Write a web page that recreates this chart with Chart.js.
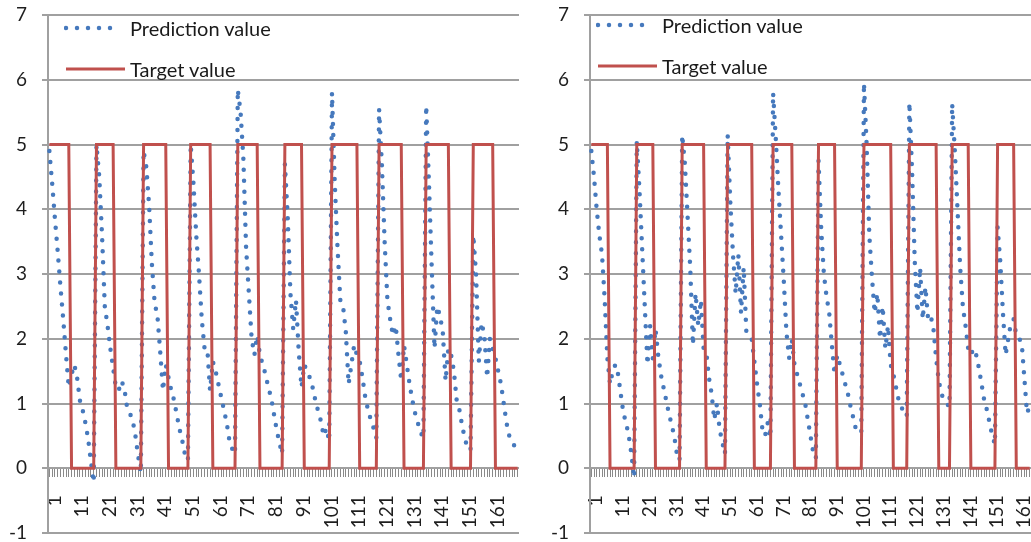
<!DOCTYPE html>
<html>
<head>
<meta charset="utf-8">
<script src="https://cdn.jsdelivr.net/npm/chart.js@4.4.0/dist/chart.umd.min.js"></script>
<style>
  html, body { margin: 0; padding: 0; background: #fff; }
  body { width: 1031px; height: 542px; position: relative; overflow: hidden; font-family: Lato, "Liberation Sans", sans-serif; }
  .panel { position: absolute; top: 0; height: 542px; overflow: hidden; background: #fff; }
  #leftPanel { left: 0; width: 519px; }
  #rightPanel { left: 519px; width: 512px; }
  canvas { display: block; }
  .legend { position: absolute; color: #1a1a1a; font-size: 20px; }
  .legend .row { display: flex; align-items: center; height: 41px; white-space: nowrap; }
  .legend svg { display: block; margin-right: 4px; }
</style>
</head>
<body>
<div class="panel" id="leftPanel">
  <canvas id="chartLeft" width="519" height="542"></canvas>
  <div class="legend" id="legendLeft" style="left:64px; top:7px;"></div>
</div>
<div class="panel" id="rightPanel">
  <canvas id="chartRight" width="512" height="542"></canvas>
  <div class="legend" id="legendRight" style="left:77px; top:4px;"></div>
</div>
<script>
// sample numbers along the x axis
const leftCategories = Array.from({ length: 170 }, (_, i) => String(i + 1));
const rightCategories = Array.from({ length: 165 }, (_, i) => String(i + 1));

// left run, one row per target cycle
const leftPrediction = [
  4.9, 4.4, 3.85, 3.35, 2.8, 2.3, 1.75, 1.25, 1.45, 1.6, 1.4, 1.05, 0.9, 0.7, 0.45, 0.1, -0.22,
  5.0, 4.5, 3.6, 2.5, 2.2, 1.85, 1.55, 1.25, 1.2, 1.35, 1.25, 0.95, 0.85, 0.75, 0.52, 0.2, -0.07,
  4.9, 4.65, 4.05, 3.15, 2.55, 2.35, 1.8, 1.2, 1.6, 1.4, 1.2, 1.05, 0.82, 0.6, 0.42, 0.2, 0.12,
  5.0, 4.4, 3.6, 3.0, 2.3, 1.85, 1.85, 1.2, 1.65, 1.5, 1.3, 1.1, 0.9, 0.7, 0.42, 0.3, 0.22,
  5.85, 5.5, 4.8, 3.4, 2.7, 2.0, 1.75, 2.05, 1.75, 1.6, 1.45, 1.25, 1.1, 0.85, 0.6, 0.4, 0.22,
  4.7, 3.9, 2.7, 2.15, 2.6, 1.8, 1.25, 1.6, 1.5, 1.4, 1.25, 1.05, 0.88, 0.73, 0.5, 0.62, 0.42,
  5.8, 4.4, 3.4, 2.6, 2.5, 2.1, 1.3, 1.6, 1.9, 1.75, 1.65, 1.4, 1.1, 0.9, 0.75, 0.62, 0.47,
  5.55, 4.7, 3.5, 2.6, 2.3, 2.05, 2.2, 1.75, 1.35, 1.9, 1.6, 1.3, 1.05, 0.85, 0.7, 0.55, 0.47,
  5.6, 4.4, 3.1, 1.85, 2.5, 2.35, 2.1, 1.35, 1.85, 1.75, 1.5, 1.05, 0.9, 0.65, 0.45, 0.3, 0.28,
  3.6, 3.0, 1.65, 2.25, 2.05, 1.4, 2.0, 1.85, 1.7, 1.5, 1.3, 1.0, 0.7, 0.5, 0.42, 0.33, 0.28
];
const leftTarget = [
  5, 5, 5, 5, 5, 5, 5, 5, 0, 0, 0, 0, 0, 0, 0, 0, 0,
  5, 5, 5, 5, 5, 5, 5, 0, 0, 0, 0, 0, 0, 0, 0, 0, 0,
  5, 5, 5, 5, 5, 5, 5, 5, 5, 0, 0, 0, 0, 0, 0, 0, 0,
  5, 5, 5, 5, 5, 5, 5, 5, 0, 0, 0, 0, 0, 0, 0, 0, 0,
  5, 5, 5, 5, 5, 5, 5, 5, 0, 0, 0, 0, 0, 0, 0, 0, 0,
  5, 5, 5, 5, 5, 5, 5, 0, 0, 0, 0, 0, 0, 0, 0, 0, 0,
  5, 5, 5, 5, 5, 5, 5, 5, 5, 5, 0, 0, 0, 0, 0, 0, 0,
  5, 5, 5, 5, 5, 5, 5, 5, 5, 0, 0, 0, 0, 0, 0, 0, 0,
  5, 5, 5, 5, 5, 5, 5, 5, 5, 0, 0, 0, 0, 0, 0, 0, 0,
  5, 5, 5, 5, 5, 5, 5, 5, 0, 0, 0, 0, 0, 0, 0, 0, 0
];

// right run
const rightPrediction = [
  4.9, 4.5, 4.0, 3.6, 3.3, 2.6, 1.7, 1.3, 1.5, 1.6, 1.45, 1.15, 0.85, 0.7, 0.5, 0.22, -0.15,
  5.05, 4.3, 3.4, 2.5, 1.6, 2.2, 1.7, 2.15, 1.75, 1.45, 1.25, 1.05, 0.85, 0.68, 0.5, 0.22, 0.12,
  5.15, 4.7, 3.9, 3.1, 1.9, 2.7, 2.2, 2.6, 1.85, 1.8, 1.4, 1.15, 0.75, 1.0, 0.6, 0.4, 0.22,
  5.15, 4.1, 3.3, 2.7, 3.3, 2.4, 3.1, 2.1, 2.05, 2.0, 1.65, 1.3, 1.0, 0.6, 0.5, 0.7, 0.47,
  5.8, 5.1, 4.3, 3.6, 2.9, 2.1, 1.7, 2.0, 1.6, 1.45, 1.3, 1.15, 1.0, 0.75, 0.5, 0.25, 0.15,
  4.75, 3.7, 3.0, 2.65, 2.4, 1.9, 1.45, 1.75, 1.6, 1.45, 1.3, 1.15, 0.95, 0.78, 0.6, 0.55, 0.55,
  5.95, 5.0, 3.6, 2.95, 2.4, 2.7, 2.0, 2.5, 1.85, 2.2, 1.6, 1.45, 1.25, 1.05, 0.95, 0.85, 0.8,
  5.65, 4.6, 3.2, 2.4, 3.1, 2.3, 2.8, 2.3, 2.35, 2.15, 1.7, 1.35, 1.15, 1.05, 1.0, 0.95,
  5.63, 4.9, 4.0, 3.1, 2.5, 2.2, 1.85, 1.75, 1.85, 1.75, 1.55, 1.3, 1.05, 0.9, 0.7, 0.5, 0.37,
  3.72, 3.2, 2.4, 1.75, 2.0, 2.25, 2.3, 2.05, 2.0, 1.95, 1.4, 0.85, 0.95
];
const rightTarget = [
  5, 5, 5, 5, 5, 5, 5, 0, 0, 0, 0, 0, 0, 0, 0, 0, 0,
  5, 5, 5, 5, 5, 5, 5, 0, 0, 0, 0, 0, 0, 0, 0, 0, 0,
  5, 5, 5, 5, 5, 5, 5, 5, 5, 0, 0, 0, 0, 0, 0, 0, 0,
  5, 5, 5, 5, 5, 5, 5, 5, 5, 5, 0, 0, 0, 0, 0, 0, 0,
  5, 5, 5, 5, 5, 5, 5, 5, 0, 0, 0, 0, 0, 0, 0, 0, 0,
  5, 5, 5, 5, 5, 5, 5, 0, 0, 0, 0, 0, 0, 0, 0, 0, 0,
  5, 5, 5, 5, 5, 5, 5, 5, 5, 5, 5, 0, 0, 0, 0, 0, 0,
  5, 5, 5, 5, 5, 5, 5, 5, 5, 5, 5, 0, 0, 0, 0, 0,
  5, 5, 5, 5, 5, 5, 5, 0, 0, 0, 0, 0, 0, 0, 0, 0, 0,
  5, 5, 5, 5, 5, 5, 5, 0, 0, 0, 0, 0, 0
];

const yTicks = { min: -1, max: 7, step: 1 };
const labelEvery = 10;

const GRID = '#a0a0a0';
const TEXT = '#1e1e1e';

function buildLegend(el, datasets) {
  datasets.forEach(ds => {
    const row = document.createElement('div');
    row.className = 'row';
    const dashed = ds.borderDash && ds.borderDash.length;
    const x2 = dashed ? 57 : 61;
    row.innerHTML = `
      <svg width="62" height="12">
        <line x1="2" y1="6" x2="${x2}" y2="6" stroke="${ds.borderColor}" stroke-width="${ds.borderWidth}"
          stroke-linecap="${ds.borderCapStyle || 'butt'}" ${dashed ? `stroke-dasharray="${ds.borderDash.join(' ')}"` : ''}/>
      </svg>
      <span>${ds.label}</span>`;
    el.appendChild(row);
  });
}

function makeChart(canvasId, legendId, categories, prediction, target, axisWidth) {
  const datasets = [
    {
      label: 'Prediction value',
      data: prediction,
      borderColor: '#4679bd',
      borderWidth: 4.5,
      borderDash: [0, 11],
      borderCapStyle: 'round',
      pointRadius: 0,
      tension: 0,
      order: 1
    },
    {
      label: 'Target value',
      data: target,
      borderColor: '#c0504d',
      borderWidth: 3,
      pointRadius: 0,
      tension: 0,
      order: 0
    }
  ];

  new Chart(document.getElementById(canvasId), {
    type: 'line',
    data: { labels: categories, datasets },
    options: {
      responsive: false,
      animation: false,
      layout: { padding: { top: 15, bottom: 9, left: 0, right: 0 } },
      plugins: { legend: { display: false }, tooltip: { enabled: false } },
      scales: {
        x: {
          type: 'category',
          position: { y: 0 },
          offset: true,
          grid: { drawOnChartArea: false, drawTicks: true, tickLength: 8, color: '#8a8a8a', lineWidth: 1 },
          border: { color: GRID, width: 2 },
          ticks: {
            autoSkip: false,
            minRotation: 90,
            maxRotation: 90,
            padding: 19,
            labelOffset: 5,
            color: TEXT,
            font: { family: 'Lato', size: 19 },
            callback: (v, i) => (i % labelEvery === 0 ? categories[i] : '')
          },
          // axis sits on y = 0 inside the plot, so it takes no room of its own
          afterFit: s => { s.height = 0; s.paddingLeft = 0; s.paddingRight = 0; }
        },
        y: {
          min: yTicks.min,
          max: yTicks.max,
          ticks: { stepSize: yTicks.step, padding: 15, color: TEXT, font: { family: 'Lato', size: 19 } },
          grid: { color: GRID, lineWidth: 2, tickLength: 6 },
          border: { color: GRID, width: 2 },
          afterFit: s => { s.width = axisWidth; s.paddingTop = 0; s.paddingBottom = 0; }
        }
      }
    }
  });

  buildLegend(document.getElementById(legendId), datasets);
}

makeChart('chartLeft', 'legendLeft', leftCategories, leftPrediction, leftTarget, 48);
makeChart('chartRight', 'legendRight', rightCategories, rightPrediction, rightTarget, 71);
</script>
</body>
</html>
